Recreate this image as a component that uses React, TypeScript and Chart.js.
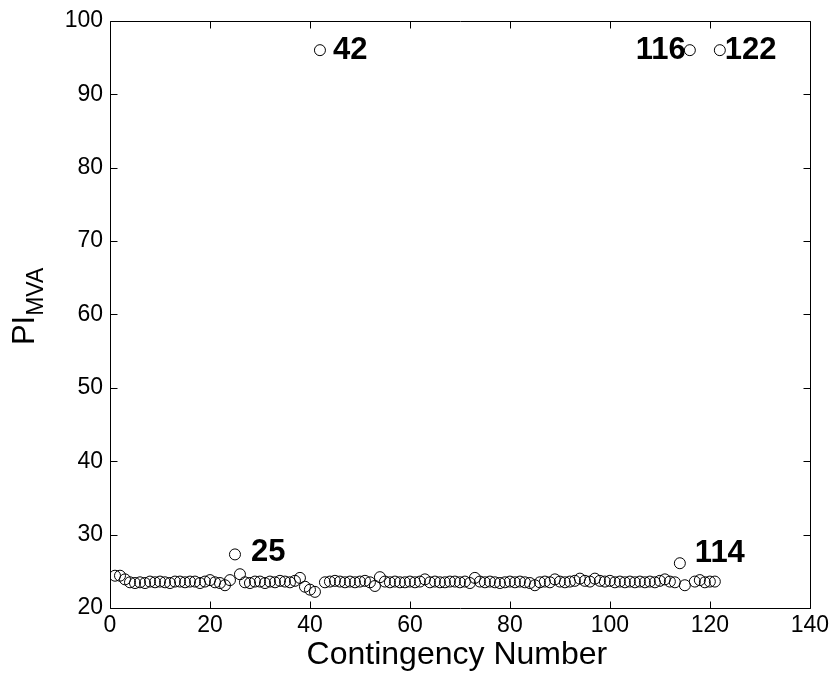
import React, { useEffect, useRef } from "react";
import { Chart, registerables } from "chart.js";

Chart.register(...registerables);

const contingencyNumber: number[] = Array.from({ length: 122 }, (_, i) => i + 1);

const piMva: number[] = [
  24.4, 24.4, 23.9, 23.5, 23.4, 23.5, 23.4, 23.6, 23.5, 23.6,
  23.5, 23.4, 23.6, 23.6, 23.5, 23.6, 23.6, 23.4, 23.6, 23.8,
  23.5, 23.4, 23.1, 23.8, 27.3, 24.6, 23.5, 23.4, 23.6, 23.6,
  23.4, 23.6, 23.5, 23.7, 23.6, 23.5, 23.7, 24.1, 22.9, 22.5,
  22.2, 96.0, 23.5, 23.6, 23.7, 23.6, 23.5, 23.6, 23.5, 23.6,
  23.7, 23.5, 23.0, 24.2, 23.6, 23.5, 23.6, 23.5, 23.5, 23.6,
  23.5, 23.6, 23.9, 23.5, 23.6, 23.5, 23.5, 23.6, 23.6, 23.5,
  23.6, 23.4, 24.1, 23.6, 23.5, 23.6, 23.5, 23.4, 23.5, 23.6,
  23.5, 23.6, 23.5, 23.4, 23.1, 23.5, 23.6, 23.5, 23.9, 23.6,
  23.5, 23.6, 23.7, 24.0, 23.7, 23.6, 24.0, 23.7, 23.6, 23.7,
  23.5, 23.6, 23.5, 23.6, 23.5, 23.6, 23.5, 23.6, 23.5, 23.7,
  23.9, 23.6, 23.5, 26.1, 23.1, 96.0, 23.6, 23.8, 23.5, 23.6,
  23.6, 96.0,
];

const xTicks: number[] = [0, 20, 40, 60, 80, 100, 120, 140];
const yTicks: number[] = [20, 30, 40, 50, 60, 70, 80, 90, 100];

const labeledPoints: number[] = [25, 42, 114, 116, 122];
const labeledTexts: string[] = ["25", "42", "114", "116", "122"];

const xTitle = "Contingency Number";
const yTitleMain = "PI";
const yTitleSub = "MVA";

const FONT = "'Liberation Sans', Arial, Helvetica, sans-serif";

export default function App() {
  const canvasRef = useRef<HTMLCanvasElement | null>(null);

  useEffect(() => {
    document.body.style.margin = "0";
    const canvas = canvasRef.current;
    if (!canvas) return;

    const labelOffsets: Record<string, { dx: number; dy: number; align: CanvasTextAlign }> = {
      "25": { dx: 16, dy: -2, align: "left" },
      "42": { dx: 13, dy: 0, align: "left" },
      "114": { dx: 15, dy: -10, align: "left" },
      "116": { dx: -4, dy: 0, align: "right" },
      "122": { dx: 5, dy: 0, align: "left" },
    };

    const decor = {
      id: "matlabDecor",
      afterDraw(chart: any) {
        const ctx: CanvasRenderingContext2D = chart.ctx;
        const area = chart.chartArea;
        const xs = chart.scales.x;
        const ys = chart.scales.y;
        ctx.save();
        ctx.strokeStyle = "#000";
        ctx.lineWidth = 1;
        const L = Math.round(area.left) + 0.5;
        const R = Math.round(area.right) + 0.5;
        const T = Math.round(area.top) + 0.5;
        const B = Math.round(area.bottom) + 0.5;
        ctx.beginPath();
        ctx.rect(L, T, R - L, B - T);
        ctx.stroke();
        const tl = 7;
        ctx.beginPath();
        for (const v of xTicks) {
          const px = Math.round(xs.getPixelForValue(v)) + 0.5;
          ctx.moveTo(px, B);
          ctx.lineTo(px, B - tl);
          ctx.moveTo(px, T);
          ctx.lineTo(px, T + tl);
        }
        for (const v of yTicks) {
          const py = Math.round(ys.getPixelForValue(v)) + 0.5;
          ctx.moveTo(L, py);
          ctx.lineTo(L + tl, py);
          ctx.moveTo(R, py);
          ctx.lineTo(R - tl, py);
        }
        ctx.stroke();

        // point labels
        ctx.fillStyle = "#000";
        ctx.font = `bold 31px ${FONT}`;
        ctx.textBaseline = "middle";
        labeledPoints.forEach((n, i) => {
          const txt = labeledTexts[i];
          const idx = contingencyNumber.indexOf(n);
          const px = xs.getPixelForValue(contingencyNumber[idx]);
          const py = ys.getPixelForValue(piMva[idx]);
          const o = labelOffsets[txt];
          ctx.textAlign = o.align;
          ctx.fillText(txt, px + o.dx, py + o.dy);
        });

        // x title
        ctx.font = `32px ${FONT}`;
        ctx.textAlign = "center";
        ctx.textBaseline = "middle";
        ctx.fillText(xTitle, (area.left + area.right) / 2 - 3, 655);

        // y title with subscript
        ctx.translate(34, (area.top + area.bottom) / 2 - 8);
        ctx.rotate(-Math.PI / 2);
        ctx.font = `31px ${FONT}`;
        const wMain = ctx.measureText(yTitleMain).width;
        ctx.font = `23px ${FONT}`;
        const wSub = ctx.measureText(yTitleSub).width;
        const total = wMain + wSub;
        ctx.textAlign = "left";
        ctx.textBaseline = "alphabetic";
        ctx.font = `31px ${FONT}`;
        ctx.fillText(yTitleMain, -total / 2, 0);
        ctx.font = `23px ${FONT}`;
        ctx.fillText(yTitleSub, -total / 2 + wMain, 9);
        ctx.restore();
      },
    };

    const chart = new Chart(canvas, {
      type: "scatter",
      data: {
        datasets: [
          {
            data: contingencyNumber.map((x, i) => ({ x, y: piMva[i] })),
            pointStyle: "circle",
            pointRadius: 5.5,
            pointHoverRadius: 5.5,
            borderColor: "#000",
            backgroundColor: "rgba(0,0,0,0)",
            pointBorderWidth: 1,
            showLine: false,
          },
        ],
      },
      options: {
        responsive: false,
        animation: false,
        events: [],
        layout: { padding: { top: 19, right: 23, left: 0, bottom: 0 } },
        plugins: {
          legend: { display: false },
          tooltip: { enabled: false },
          title: { display: false },
        },
        scales: {
          x: {
            type: "linear",
            min: 0,
            max: 140,
            afterFit(scale: any) {
              scale.height = 67;
            },
            afterBuildTicks(scale: any) {
              scale.ticks = xTicks.map((v) => ({ value: v }));
            },
            grid: { display: false, drawTicks: false },
            border: { display: false },
            ticks: {
              color: "#000",
              font: { family: FONT, size: 23 },
              padding: 4,
              maxRotation: 0,
              autoSkip: false,
            },
          },
          y: {
            type: "linear",
            min: 20,
            max: 100,
            afterFit(scale: any) {
              scale.width = 110;
            },
            afterBuildTicks(scale: any) {
              scale.ticks = yTicks.map((v) => ({ value: v }));
            },
            grid: { display: false, drawTicks: false },
            border: { display: false },
            ticks: {
              color: "#000",
              font: { family: FONT, size: 23 },
              padding: 7,
              autoSkip: false,
            },
          },
        },
      },
      plugins: [decor],
    });

    return () => chart.destroy();
  }, []);

  return (
    <div style={{ position: "absolute", left: 0, top: 0, width: 833, height: 675, background: "#fff" }}>
      <canvas ref={canvasRef} width={833} height={675} />
    </div>
  );
}
